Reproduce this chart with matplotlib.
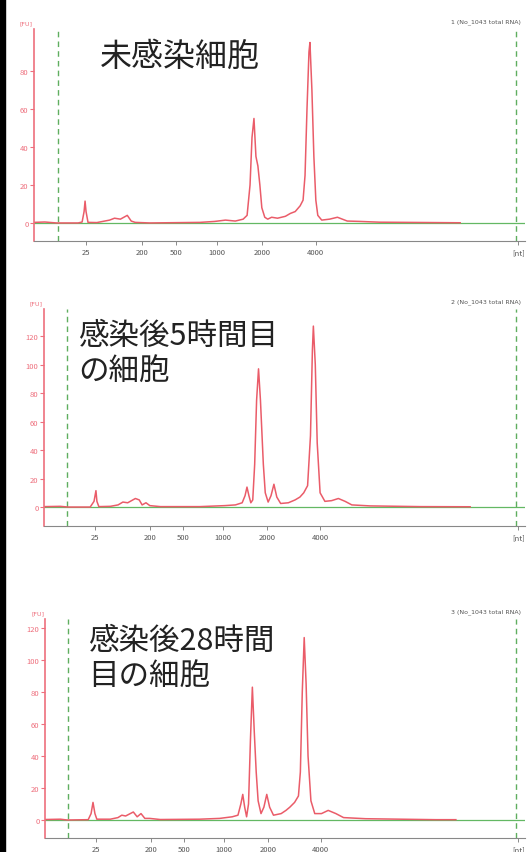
import matplotlib

matplotlib.use("Agg")
import matplotlib.pyplot as plt
from matplotlib.patches import Rectangle

plt.rcParams["font.family"] = ["Noto Sans CJK JP", "DejaVu Sans"]

# Электрофореграммы (время миграции, с -> флуоресценция, FU)
time_1 = [19.0, 20.1, 20.8, 21.3, 23.5, 23.9, 24.1, 24.2, 24.3, 24.5, 25.4, 26.0,
          26.7, 27.2, 27.8, 28.5, 28.9, 29.3, 30.8, 35.9, 37.4, 38.5, 39.5, 40.3,
          40.7, 41.0, 41.2, 41.4, 41.6, 41.8, 42.0, 42.2, 42.5, 42.8, 43.2, 43.8,
          44.6, 45.1, 45.6, 46.1, 46.4, 46.6, 46.8, 47.0, 47.1, 47.3, 47.5, 47.7,
          47.9, 48.3, 49.1, 49.9, 50.9, 52.2, 54.2, 62.4]
fu_1 = [0.3, 0.5, 0.2, 0.0, 0.0, 0.5, 6.0, 11.5, 6.0, 0.3, 0.2, 0.8,
        1.5, 2.5, 2.0, 4.0, 1.0, 0.3, 0.0, 0.3, 0.8, 1.5, 1.0, 2.0,
        4.0, 20.0, 45.0, 55.0, 35.0, 30.0, 20.0, 8.0, 3.0, 2.0, 3.0, 2.5,
        3.5, 5.0, 6.0, 9.0, 12.0, 25.0, 60.0, 90.0, 95.0, 70.0, 35.0, 12.0,
        4.0, 1.5, 2.0, 3.0, 1.0, 0.8, 0.4, 0.1]

time_2 = [19.0, 20.7, 21.5, 23.8, 24.2, 24.4, 24.5, 24.7, 25.9, 26.7, 27.2, 27.7,
          28.5, 28.9, 29.2, 29.6, 30.0, 31.1, 35.2, 37.8, 38.9, 39.6, 39.9, 40.1,
          40.3, 40.5, 40.7, 40.9, 41.1, 41.3, 41.5, 41.8, 42.0, 42.3, 42.6, 42.9,
          43.2, 43.6, 44.4, 45.1, 45.6, 46.0, 46.4, 46.7, 46.9, 47.0, 47.2, 47.4,
          47.7, 48.2, 48.9, 49.6, 50.3, 51.0, 52.9, 58.1, 63.3]
fu_2 = [0.3, 0.5, 0.0, 0.0, 4.0, 11.5, 4.0, 0.3, 0.5, 1.5, 3.5, 3.0,
        6.0, 5.0, 1.5, 3.0, 1.0, 0.3, 0.3, 1.0, 1.5, 3.0, 8.0, 14.0,
        8.0, 3.0, 5.0, 30.0, 75.0, 97.0, 75.0, 30.0, 10.0, 3.5, 8.0, 16.0,
        7.0, 2.5, 3.0, 5.0, 7.0, 10.0, 15.0, 50.0, 110.0, 127.0, 100.0, 45.0,
        10.0, 4.0, 4.5, 6.0, 4.0, 1.5, 0.8, 0.3, 0.2]

time_3 = [19.0, 20.6, 21.3, 23.5, 23.8, 24.0, 24.2, 24.4, 25.8, 26.6, 27.0, 27.4,
          28.2, 28.6, 29.0, 29.4, 29.9, 31.0, 35.1, 37.2, 38.5, 39.1, 39.4, 39.6,
          39.8, 40.0, 40.2, 40.4, 40.6, 40.8, 41.0, 41.2, 41.5, 41.8, 42.1, 42.4,
          42.8, 43.6, 44.1, 44.5, 45.0, 45.4, 45.6, 45.8, 46.0, 46.2, 46.4, 46.7,
          47.1, 47.8, 48.5, 49.3, 50.1, 52.4, 59.7, 61.8]
fu_3 = [0.3, 0.5, 0.0, 0.2, 4.0, 11.0, 4.0, 0.5, 0.5, 1.5, 3.0, 2.5,
        5.0, 2.0, 4.0, 1.0, 1.0, 0.3, 0.5, 1.0, 2.0, 3.0, 10.0, 16.0,
        8.0, 2.0, 10.0, 50.0, 83.0, 55.0, 30.0, 12.0, 4.0, 8.0, 16.0, 8.0,
        3.0, 4.0, 6.0, 8.0, 11.0, 15.0, 30.0, 80.0, 114.0, 85.0, 40.0, 12.0,
        4.0, 4.0, 6.0, 4.0, 1.5, 0.8, 0.2, 0.2]

# Шкала размеров (нуклеотиды) по лестнице
ladder_time = [24.3, 30.0, 33.5, 37.6, 42.2, 47.7, 68.3]
ladder_labels = ["25", "200", "500", "1000", "2000", "4000", "[nt]"]
marker_times = [21.4, 68.1]

titles = [["未感染細胞"], ["感染後5時間目", "の細胞"], ["感染後28時間", "目の細胞"]]
samples = ["1 (No_1043 total RNA)", "2 (No_1043 total RNA)", "3 (No_1043 total RNA)"]
yticks = [[0, 20, 40, 60, 80], [0, 20, 40, 60, 80, 100, 120], [0, 20, 40, 60, 80, 100, 120]]

W, H = 529, 853
RED = "#ea5c69"
PINK = "#ee6f7d"
GREEN = "#5fae5f"


def draw_panel(fig, box, ylim, times, fu, ticks, title, sample, title_xy, size):
    left, top, right, bottom = box
    ax = fig.add_axes([left / W, 1 - bottom / H, (right - left) / W, (bottom - top) / H])
    ax.set_xlim(19, 69)
    ax.set_ylim(*ylim)
    # Маркеры и базовая линия
    for t in marker_times:
        ax.axvline(t, color=GREEN, lw=1.0, dashes=(4, 3))
    ax.axhline(0, color="#63b863", lw=0.9)
    ax.plot(times, fu, color=RED, lw=1.1)

    ax.spines["top"].set_visible(False)
    ax.spines["right"].set_visible(False)
    ax.spines["left"].set_color(PINK)
    ax.spines["left"].set_linewidth(1.2)
    ax.spines["bottom"].set_color("#888888")
    ax.set_yticks(ticks)
    ax.tick_params(axis="y", colors=PINK, labelsize=5.5, length=3, width=0.8, pad=1)
    ax.set_xticks(ladder_time)
    ax.set_xticklabels(ladder_labels)
    ax.tick_params(axis="x", colors="#777777", labelcolor="#555555",
                   labelsize=5.5, length=3, width=0.6, pad=2)

    fig.text((left - 14) / W, 1 - (top - 6) / H, "[FU]", color=PINK, fontsize=4.5,
             ha="left", va="center", family="DejaVu Sans")
    fig.text(521 / W, 1 - (top - 8) / H, sample, color="#555555", fontsize=4.5,
             ha="right", va="center", family="DejaVu Sans")
    tx, ty = title_xy
    for i, line in enumerate(title):
        fig.text(tx / W, 1 - (ty + i * 35) / H, line, fontsize=size, color="#222222",
                 ha="left", va="center")
    return ax


fig = plt.figure(figsize=(W / 100, H / 100), dpi=100)

draw_panel(fig, (34, 30, 525, 242), (-9.5, 102.1), time_1, fu_1, yticks[0],
           titles[0], samples[0], (100, 57), 23)
draw_panel(fig, (44, 310, 525, 527), (-13.3, 139.0), time_2, fu_2, yticks[1],
           titles[1], samples[1], (78, 336), 22)
draw_panel(fig, (45, 620, 525, 839), (-11.25, 125.6), time_3, fu_3, yticks[2],
           titles[2], samples[2], (88, 641), 22)

# Чёрная рамка слева
fig.patches.append(Rectangle((0, 0), 5 / W, 1, transform=fig.transFigure,
                             color="black", zorder=10))

fig.savefig("out.png", dpi=100)
